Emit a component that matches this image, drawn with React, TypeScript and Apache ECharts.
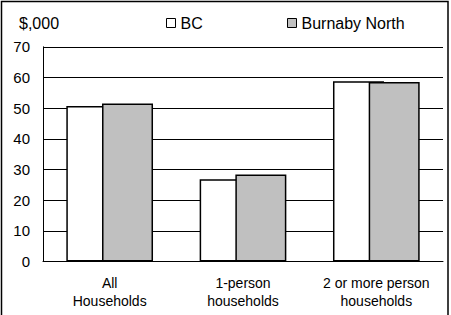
import React, { useEffect, useRef } from "react";
import * as echarts from "echarts";

const categories = ["All\nHouseholds", "1-person\nhouseholds", "2 or more person\nhouseholds"];
const bcValues = [50.7, 26.8, 58.8];
const burnabyValues = [51.5, 28.4, 58.5];
const yTicks = { min: 0, max: 70, interval: 10 };
const unitLabel = "$,000";
const seriesNames = ["BC", "Burnaby North"];

const FONT = "'Liberation Sans', Arial, sans-serif";

export default function App() {
  const ref = useRef<HTMLDivElement>(null);
  useEffect(() => {
    if (!ref.current) return;
    const chart = echarts.init(ref.current, null, { renderer: "svg" });
    const legendBase = {
      top: 10,
      icon: "rect",
      itemWidth: 9,
      itemHeight: 9,
      itemStyle: { borderColor: "#000", borderWidth: 1 },
      textStyle: { fontSize: 16, color: "#000", fontFamily: FONT },
    };
    chart.setOption({
      animation: false,
      backgroundColor: "#fff",
      textStyle: { fontFamily: FONT, color: "#000" },
      grid: { left: 43, right: 8, top: 46.8, bottom: 53.5, containLabel: false },
      title: {
        text: unitLabel,
        left: 14,
        top: 10,
        textStyle: { fontSize: 16, fontWeight: "normal", color: "#000", fontFamily: FONT },
      },
      legend: [
        { ...legendBase, data: [seriesNames[0]], left: 161 },
        { ...legendBase, data: [seriesNames[1]], left: 282 },
      ],
      xAxis: {
        type: "category",
        data: categories,
        axisLine: { show: true, lineStyle: { color: "#000", width: 1 } },
        axisTick: { show: false },
        axisLabel: { interval: 0, fontSize: 14, lineHeight: 18, margin: 12, color: "#000", fontFamily: FONT },
        splitLine: { show: false },
      },
      yAxis: {
        type: "value",
        min: yTicks.min,
        max: yTicks.max,
        interval: yTicks.interval,
        axisLine: { show: true, lineStyle: { color: "#000", width: 1 } },
        axisTick: { show: false },
        axisLabel: { fontSize: 15, margin: 13, color: "#000", fontFamily: FONT },
        splitLine: { show: true, lineStyle: { color: "#000", width: 1 } },
      },
      series: [
        {
          name: seriesNames[0],
          type: "bar",
          data: bcValues,
          barWidth: 51,
          barGap: "-30%",
          itemStyle: { color: "#ffffff", borderColor: "#000", borderWidth: 1.5 },
        },
        {
          name: seriesNames[1],
          type: "bar",
          data: burnabyValues,
          barWidth: 51,
          barGap: "-30%",
          itemStyle: { color: "#c0c0c0", borderColor: "#000", borderWidth: 1.5 },
        },
      ],
      graphic: [
        {
          type: "rect",
          shape: { x: 1.5, y: 1.5, width: 446.5, height: 330 },
          style: { fill: "none", stroke: "#000", lineWidth: 1.5 },
          silent: true,
          z: 100,
        },
      ],
    });
    return () => chart.dispose();
  }, []);
  return (
    <div
      ref={ref}
      style={{ position: "fixed", left: 0, top: 0, width: 451, height: 315 }}
    />
  );
}
